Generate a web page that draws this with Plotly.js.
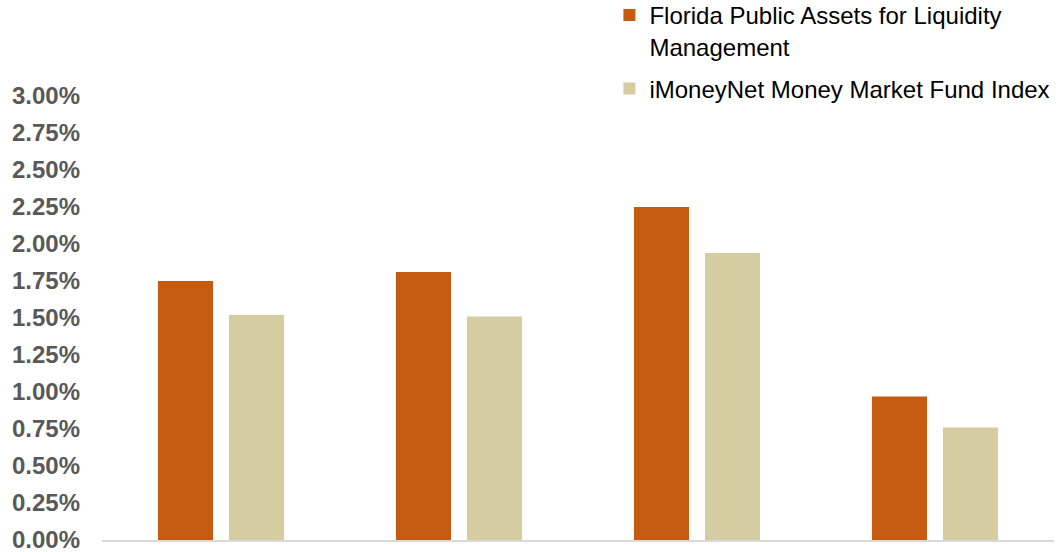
<!DOCTYPE html>
<html>
<head>
<meta charset="utf-8">
<script src="https://cdn.plot.ly/plotly-3.0.1.min.js"></script>
<style>html,body{margin:0;padding:0;background:#fff;}#chart{width:1064px;height:552px;}</style>
</head>
<body>
<div id="chart"></div>
<script>
// Data (percent)
var categories = ["Period 1", "Period 2", "Period 3", "Period 4"];
var seriesNames = ["Florida Public Assets for Liquidity<br>Management", "iMoneyNet Money Market Fund Index"];
var floridaPALM = [1.75, 1.81, 2.25, 0.97];
var iMoneyNet = [1.52, 1.51, 1.94, 0.76];
var yTickValues = [0, 0.25, 0.5, 0.75, 1, 1.25, 1.5, 1.75, 2, 2.25, 2.5, 2.75, 3];
var yTickLabels = ["0.00%", "0.25%", "0.50%", "0.75%", "1.00%", "1.25%", "1.50%", "1.75%", "2.00%", "2.25%", "2.50%", "2.75%", "3.00%"];

var traces = [
  {type: 'bar', name: seriesNames[0], x: categories, y: floridaPALM,
   marker: {color: '#C55A11'}, legendgroup: 'a', hoverinfo: 'y'},
  {type: 'bar', name: seriesNames[1], x: categories, y: iMoneyNet,
   marker: {color: '#D5CCA1'}, legendgroup: 'b', hoverinfo: 'y'}
];

var layout = {
  width: 1064, height: 552,
  margin: {l: 102, r: 10, t: 96, b: 12, autoexpand: false},
  paper_bgcolor: '#ffffff', plot_bgcolor: '#ffffff',
  barmode: 'group', bargap: 0.403, bargroupgap: 0.225,
  font: {family: 'Liberation Sans, Arial, sans-serif', color: '#000000'},
  xaxis: {showticklabels: false, ticks: '', showgrid: false, zeroline: false,
          showline: true, linecolor: '#d9d9d9', linewidth: 2, fixedrange: true},
  yaxis: {range: [0, 3], tickvals: yTickValues, ticktext: yTickLabels,
          showgrid: false, zeroline: false, showline: false, ticks: '',
          ticklabelstandoff: 21, ticklabeloverflow: 'allow',
          tickfont: {family: 'Liberation Sans, Arial, sans-serif', size: 24, color: '#595959', weight: 'bold'}},
  showlegend: true,
  legend: {x: 0.533, y: 1.232, xanchor: 'left', yanchor: 'top', xref: 'paper', yref: 'paper',
           traceorder: 'grouped', tracegroupgap: 8, valign: 'top',
           font: {family: 'Liberation Sans, Arial, sans-serif', size: 24, color: '#000000'},
           bgcolor: 'rgba(0,0,0,0)'}
};

Plotly.newPlot('chart', traces, layout, {displayModeBar: false, staticPlot: true});
</script>
</body>
</html>
